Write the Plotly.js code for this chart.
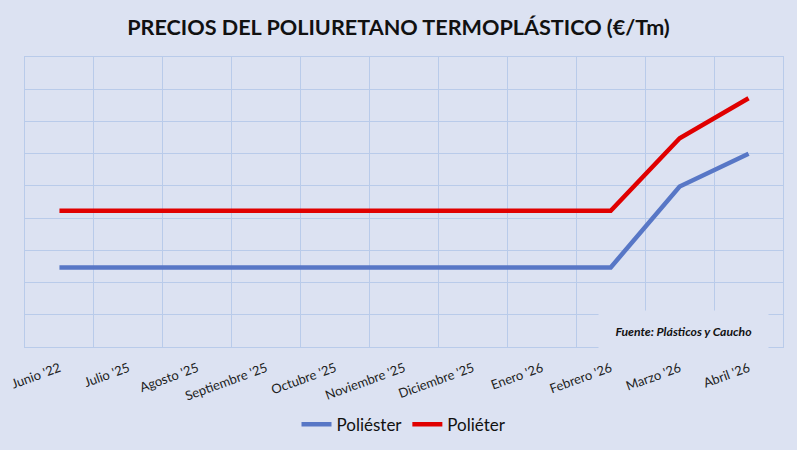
<!DOCTYPE html>
<html>
<head>
<meta charset="utf-8">
<script src="https://cdn.plot.ly/plotly-3.0.1.min.js"></script>
<style>html,body{margin:0;padding:0;background:#dce2f2;}#chart{width:797px;height:450px;}</style>
</head>
<body>
<div id="chart"></div>
<script>
const categories = ["Junio '22", "Julio '25", "Agosto '25", "Septiembre '25", "Octubre '25", "Noviembre '25", "Diciembre '25", "Enero '26", "Febrero '26", "Marzo '26", "Abril '26"];
const poliester = [2.47, 2.47, 2.47, 2.47, 2.47, 2.47, 2.47, 2.47, 2.47, 4.98, 6.0];
const polieter  = [4.23, 4.23, 4.23, 4.23, 4.23, 4.23, 4.23, 4.23, 4.23, 6.48, 7.72];

const bg = '#dce2f2';
const grid = '#b9cbea';
const font = 'Lato, "Open Sans", sans-serif';

const traces = [
  {x: categories, y: poliester, name: 'Poliéster', type: 'scatter', mode: 'lines',
   line: {color: '#5877c6', width: 4.5}},
  {x: categories, y: polieter, name: 'Poliéter', type: 'scatter', mode: 'lines',
   line: {color: '#e00000', width: 4.5}}
];

const layout = {
  width: 797, height: 450,
  paper_bgcolor: bg, plot_bgcolor: bg,
  margin: {l: 25, r: 14, t: 57, b: 103},
  font: {family: font, color: '#222'},
  title: {text: '<b>PRECIOS DEL POLIURETANO TERMOPLÁSTICO (€/Tm)</b>', x: 0.5, xanchor: 'center', y: 0.94, yanchor: 'middle',
          font: {family: font, size: 21.6, color: '#111'}},
  xaxis: {type: 'category', range: [-0.5, 10.5], tickson: 'boundaries', showgrid: true, gridcolor: grid, gridwidth: 1,
          ticks: '', tickangle: -20, tickfont: {family: font, size: 13, color: '#222'}, ticklabelstandoff: 8,
          showline: true, mirror: true, linecolor: grid, linewidth: 1, zeroline: false, fixedrange: true, automargin: false},
  yaxis: {range: [0, 9], dtick: 1, showgrid: true, gridcolor: grid, gridwidth: 1, showticklabels: false,
          zeroline: false, showline: true, mirror: true, linecolor: grid, linewidth: 1, ticks: '', automargin: false},
  showlegend: true,
  legend: {orientation: 'h', x: 0.5, xanchor: 'center', yref: 'container', y: 0.056, yanchor: 'middle',
           font: {family: font, size: 17, color: '#111'}, bgcolor: 'rgba(0,0,0,0)', itemwidth: 30},
  annotations: [{
    text: '<b><i>Fuente: Plásticos y Caucho</i></b>', xref: 'paper', yref: 'paper',
    x: 0.8681, y: 0.055, xanchor: 'center', yanchor: 'middle', showarrow: false,
    width: 167, height: 38, bgcolor: bg, font: {family: font, size: 12.2, color: '#111'}
  }]
};

Plotly.newPlot('chart', traces, layout, {displayModeBar: false, staticPlot: true});
</script>
</body>
</html>
